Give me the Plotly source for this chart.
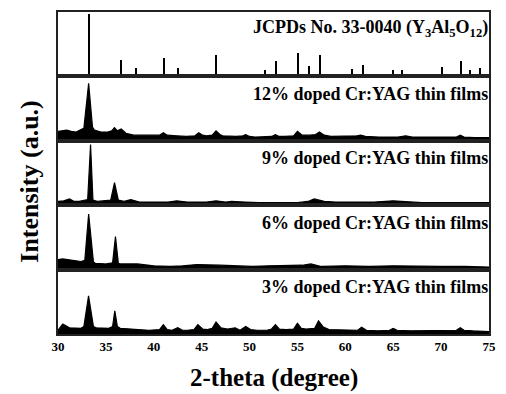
import plotly.graph_objects as go
from plotly.subplots import make_subplots

# JCPDS No. 33-0040 reference lines
jcpds_2theta = [33.29, 36.65, 38.19, 41.13, 42.53, 46.57, 51.61, 52.78, 55.10, 56.27,
                57.43, 60.72, 61.82, 64.96, 65.96, 70.10, 72.09, 73.08, 74.08]
jcpds_int = [100, 27, 14, 30, 13, 34, 11, 24, 37, 17, 35, 12, 18, 10, 10, 15, 24, 11, 14]

# 12% doped
x12 = [30.0, 30.4, 30.9, 31.4, 31.9, 32.4, 32.7, 33.2, 33.6, 33.8,
       34.2, 34.5, 35.2, 35.6, 35.9, 36.2, 36.6, 37.1, 37.9, 38.9,
       40.0, 40.6, 41.0, 41.4, 42.4, 43.4, 44.3, 44.7, 45.1, 45.5,
       46.1, 46.5, 46.9, 47.2, 48.6, 49.3, 49.6, 50.0, 50.6, 51.6,
       52.3, 52.7, 53.1, 53.7, 54.6, 55.0, 55.5, 56.3, 56.9, 57.3,
       57.8, 58.5, 60.0, 61.2, 61.6, 62.1, 63.5, 65.5, 66.3, 67.0,
       68.5, 70.0, 71.6, 72.0, 72.4, 73.5, 75.0]
y12 = [15, 16, 17, 15, 14, 18, 20, 92, 22, 17,
       15, 14, 14, 16, 21, 16, 19, 12, 9, 9,
       8, 9, 13, 9, 8, 7, 8, 13, 9, 8,
       9, 16, 10, 8, 7, 8, 10, 7, 6, 7,
       7, 10, 7, 7, 8, 15, 9, 9, 10, 14,
       9, 7, 7, 8, 9, 7, 6, 6, 8, 6,
       6, 6, 6, 9, 6, 5, 5]

# 9% doped
x9 = [30.0, 30.6, 31.2, 31.7, 32.2, 32.7, 33.1, 33.4, 33.65, 34.1,
      35.1, 35.5, 35.9, 36.3, 36.9, 37.6, 38.5, 40.0, 41.5, 42.4,
      43.5, 45.5, 46.5, 47.5, 48.1, 49.5, 51.0, 53.0, 55.0, 56.1,
      56.75, 57.8, 59.0, 61.0, 63.0, 65.0, 66.5, 68.0, 70.0, 72.0,
      75.0]
y9 = [6, 7, 10, 6, 6, 8, 9, 97, 8, 6,
      7, 8, 36, 8, 6, 9, 5, 5, 5, 7,
      5, 5, 7, 5, 6, 5, 4, 4, 4, 6,
      10, 6, 5, 5, 5, 7, 5, 4, 4, 4,
      4]

# 6% doped
x6 = [30.0, 30.5, 31.0, 31.5, 32.0, 32.4, 32.8, 33.2, 33.7, 33.9,
      34.9, 35.7, 36.0, 36.3, 36.6, 38.3, 40.0, 41.7, 43.0, 44.5,
      46.9, 48.5, 50.3, 52.0, 54.0, 55.5, 56.4, 57.5, 60.0, 62.5,
      65.0, 67.5, 70.0, 72.5, 75.0]
y6 = [16, 17, 16, 15, 13, 13, 15, 89, 12, 10,
      9, 11, 53, 10, 9, 9, 6, 5, 6, 8,
      7, 6, 5, 6, 6, 7, 9, 5, 6, 5,
      6, 5, 5, 5, 4]

# 3% doped
x3 = [30.0, 30.5, 31.2, 31.8, 32.4, 32.7, 33.19, 33.7, 34.0, 35.3,
      35.7, 35.93, 36.2, 36.5, 37.3, 38.1, 38.8, 39.5, 40.6, 41.0,
      41.4, 41.9, 42.5, 43.0, 43.5, 44.2, 44.6, 45.1, 45.6, 46.1,
      46.5, 47.0, 47.7, 48.5, 49.0, 49.6, 50.1, 50.8, 51.8, 52.3,
      52.7, 53.1, 53.8, 54.6, 55.0, 55.4, 55.9, 56.8, 57.2, 57.7,
      58.3, 60.0, 61.3, 61.7, 62.2, 63.4, 64.6, 65.0, 65.4, 66.8,
      68.0, 69.6, 71.6, 72.0, 72.4, 73.3, 74.7, 75.0]
y3 = [6, 16, 10, 9, 9, 12, 61, 12, 10, 9,
      12, 37, 12, 9, 8, 8, 7, 6, 7, 15,
      7, 6, 10, 6, 6, 7, 15, 8, 7, 9,
      19, 10, 8, 10, 6, 12, 7, 6, 6, 8,
      15, 8, 7, 8, 17, 9, 8, 9, 21, 11,
      7, 6, 6, 11, 6, 5, 6, 9, 6, 5,
      5, 6, 6, 10, 6, 5, 4, 4]

labels = ["JCPDs No. 33-0040 (Y<sub>3</sub>Al<sub>5</sub>O<sub>12</sub>)",
          "12% doped Cr:YAG thin films",
          "9% doped Cr:YAG thin films",
          "6% doped Cr:YAG thin films",
          "3% doped Cr:YAG thin films"]
x_ticks = [30, 35, 40, 45, 50, 55, 60, 65, 70, 75]

FONT = "Liberation Serif"

fig = make_subplots(rows=5, cols=1, shared_xaxes=True, vertical_spacing=0)

fig.add_trace(go.Bar(x=jcpds_2theta, y=jcpds_int, width=0.16,
                     marker=dict(color="black", line=dict(width=0)),
                     showlegend=False), row=1, col=1)

for r, (xs, ys) in enumerate([(x12, y12), (x9, y9), (x6, y6), (x3, y3)], start=2):
    fig.add_trace(go.Scatter(x=xs, y=ys, mode="lines", fill="tozeroy",
                             line=dict(color="black", width=1.2),
                             fillcolor="black", showlegend=False),
                  row=r, col=1)

for r in range(1, 6):
    fig.update_xaxes(range=[30, 75], showline=True, mirror=True, linecolor="#222",
                     linewidth=1.5, showgrid=False, zeroline=False,
                     tickvals=x_ticks, ticks="", showticklabels=(r == 5),
                     tickfont=dict(family=FONT, size=13, color="black", weight="bold"),
                     row=r, col=1)
    fig.update_yaxes(range=[0, 103], showline=True, mirror=True, linecolor="#222",
                     linewidth=1.5, showgrid=False, zeroline=False,
                     showticklabels=False, ticks="", row=r, col=1)

annos = []
for r, lab in enumerate(labels, start=1):
    yref = "y domain" if r == 1 else f"y{r} domain"
    annos.append(dict(text=lab, xref="paper", yref=yref,
                      x=1.0, xshift=1, y=0.73 if r > 1 else 0.74,
                      xanchor="right", yanchor="middle", showarrow=False,
                      font=dict(family=FONT, size=18, color="black", weight="bold")))
annos.append(dict(text="2-theta (degree)", xref="paper", yref="paper",
                  x=0.502, y=-0.136, xanchor="center", yanchor="middle", showarrow=False,
                  font=dict(family=FONT, size=25, color="black", weight="bold")))
annos.append(dict(text="Intensity (a.u.)", xref="paper", yref="paper",
                  x=-0.068, y=0.475, xanchor="center", yanchor="middle", showarrow=False,
                  textangle=-90, font=dict(family=FONT, size=26, color="black", weight="bold")))

fig.update_layout(width=506, height=394, margin=dict(l=58, r=10, t=11, b=60),
                  paper_bgcolor="white", plot_bgcolor="white",
                  annotations=annos, bargap=0)

fig.write_html("out.html")
